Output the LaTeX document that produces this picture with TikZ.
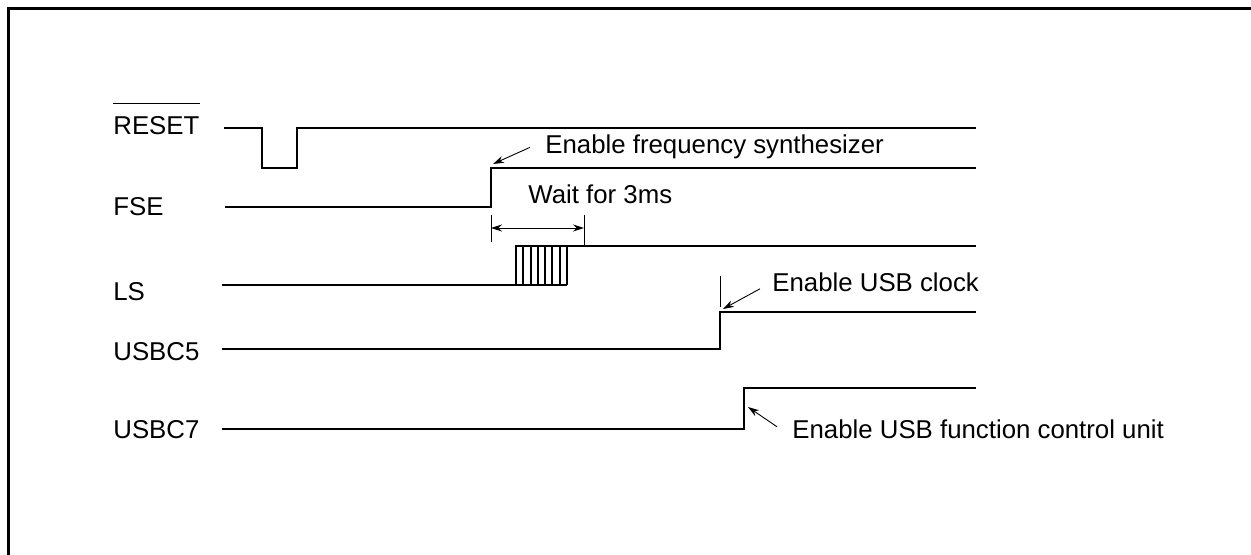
\documentclass[tikz,border=0pt]{standalone}
\usepackage{fontspec}
\setmainfont{Liberation Sans}
\usetikzlibrary{arrows.meta}

\begin{document}
\begin{tikzpicture}[x=0.5pt, y=-0.5pt,
  sig/.style={line width=1pt},
  tick/.style={line width=0.5pt},
  lbl/.style={anchor=base west, inner sep=0pt, font=\fontsize{12.9}{15}\selectfont},
  ptr/.style={-{Stealth[length=5.5pt,width=3.5pt]}, line width=0.45pt},
  dimarr/.style={{Stealth[length=5.5pt,width=3.5pt]}-{Stealth[length=5.5pt,width=3.5pt]}, line width=0.45pt}
]
  \useasboundingbox (0,0) rectangle (1251,555);
  \draw[line width=1.5pt] (8,9) rectangle (1275,580);

  % signal names
  \node[lbl] (rst)   at (113,135) {RESET};
  \node[lbl] (fse)   at (113,216) {FSE};
  \node[lbl] (ls)    at (113,300) {LS};
  \node[lbl] (usbc5) at (113,360) {USBC5};
  \node[lbl] (usbc7) at (113,438) {USBC7};
  \draw[tick] ([yshift=6.5pt]rst.north west) -- ([yshift=6.5pt]rst.north east);

  % waveforms
  \draw[sig] (224,128) -- (262,128) -- (262,168) -- (297,168) -- (297,128) -- (976,128);
  \draw[sig] (225,207) -- (491,207) -- (491,168) -- (976,168);
  \draw[sig] (222,285) -- (567,285);
  \draw[sig] (516,285) -- (516,246) -- (976,246);
  \foreach \x in {523.3,530.6,537.9,545.1,552.4,559.7,567}
    \draw[sig] (\x,246) -- (\x,285);
  \draw[sig] (222,349) -- (720,349) -- (720,312) -- (976,312);
  \draw[sig] (222,429) -- (744,429) -- (744,388) -- (976,388);

  % edges
  \coordinate (fseup) at (493,164);
  \coordinate (c5up)  at (723,309);
  \coordinate (c7up)  at (748,407);
  \coordinate (w1) at (491,228);
  \coordinate (w2) at (584,228);

  % notes
  \node[lbl] (nfse)  at (545,154) {Enable frequency synthesizer};
  \node[lbl] (nwait) at (528,204) {Wait for 3ms};
  \node[lbl] (nclk)  at (772,292) {Enable USB clock};
  \node[lbl] (nfcu)  at (792,438) {Enable USB function control unit};

  \draw[ptr] ([shift={(-15,0)}]nfse.west) -- (fseup);
  \draw[ptr] ([shift={(-12,6)}]nclk.west) -- (c5up);
  \draw[ptr] ([shift={(-15,-2)}]nfcu.west) -- (c7up);

  \draw[tick] (491,215) -- (491,242);
  \draw[tick] (584,215) -- (584,246);
  \draw[tick] (720,276) -- (720,307);
  \draw[dimarr] (w1) -- (w2);
\end{tikzpicture}
\end{document}
